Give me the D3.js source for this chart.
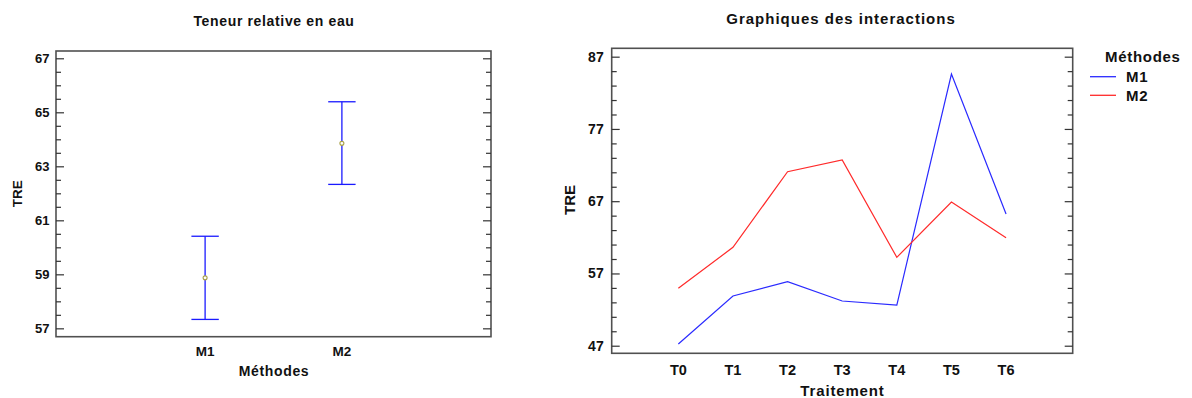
<!DOCTYPE html>
<html><head><meta charset="utf-8">
<script src="https://cdn.jsdelivr.net/npm/d3@7"></script>
<style>
html,body{margin:0;padding:0;background:#fff;}
svg{display:block;}
text{font-family:"Liberation Sans",Arial,sans-serif;font-weight:bold;fill:#111;}
</style></head>
<body>
<svg id="c" width="1192" height="398"></svg>
<script>
// ---- Data: left chart (means with intervals) ----
const methods = ["M1", "M2"];
const methodMeans = [58.87, 63.85];
const methodLower = [57.33, 62.33];
const methodUpper = [60.41, 65.39];
const leftYTicks = [57, 59, 61, 63, 65, 67];

// ---- Data: right chart (interactions) ----
const treatments = ["T0", "T1", "T2", "T3", "T4", "T5", "T6"];
const seriesNames = ["M1", "M2"];
const m1Values = [47.24, 53.88, 55.86, 53.19, 52.63, 84.6, 65.23];
const m2Values = [54.94, 60.62, 71.08, 72.7, 59.23, 66.89, 61.95];
const rightYTicks = [47, 57, 67, 77, 87];
const seriesColors = ["#2a2aff", "#ff2a2a"];

const svg = d3.select("#c");
const frameColor = "#505050";

function frame(g, x0, x1, y0, y1) {
  g.append("rect").attr("x", x0).attr("y", y0).attr("width", x1 - x0).attr("height", y1 - y0)
    .attr("fill", "none").attr("stroke", frameColor).attr("stroke-width", 1.6);
}
function yAxes(g, y, x0, x1, major, minor, fs, pad) {
  const L = g.append("g").attr("transform", `translate(${x0},0)`)
    .call(d3.axisLeft(y).tickValues(major).tickSize(-8).tickPadding(pad).tickFormat(d3.format("d")));
  L.select(".domain").remove();
  L.selectAll("text").style("font-size", fs + "px").style("font-family", '"Liberation Sans",Arial,sans-serif').attr("fill", "#111").attr("font-weight", "bold");
  L.selectAll("line").attr("stroke", "#333").attr("stroke-width", 1.2);
  const Lm = g.append("g").attr("transform", `translate(${x0},0)`)
    .call(d3.axisLeft(y).tickValues(minor).tickSize(-5).tickFormat(""));
  Lm.select(".domain").remove();
  Lm.selectAll("line").attr("stroke", "#333").attr("stroke-width", 1.2);
  const R = g.append("g").attr("transform", `translate(${x1},0)`)
    .call(d3.axisRight(y).tickValues(major).tickSize(-8).tickFormat(""));
  R.select(".domain").remove();
  R.selectAll("line").attr("stroke", "#333").attr("stroke-width", 1.2);
  const Rm = g.append("g").attr("transform", `translate(${x1},0)`)
    .call(d3.axisRight(y).tickValues(minor).tickSize(-5).tickFormat(""));
  Rm.select(".domain").remove();
  Rm.selectAll("line").attr("stroke", "#333").attr("stroke-width", 1.2);
}

// ================= LEFT CHART =================
{
  const x0 = 56, x1 = 491, y0 = 51, y1 = 336.7;
  const g = svg.append("g");
  const x = d3.scalePoint().domain(methods).range([x0, x1]).padding(1.09);
  const y = d3.scaleLinear().domain([56.69, 67.27]).range([y1, y0]);
  frame(g, x0, x1, y0, y1);
  const minor = d3.range(57, 67.01, 0.5).filter(v => !leftYTicks.includes(v));
  yAxes(g, y, x0, x1, leftYTicks, minor, 13, 6.5);

  const cap = 13.7;
  const eb = g.append("g").attr("stroke", "#1a1aff").attr("stroke-width", 1.3).attr("fill", "none");
  methods.forEach((m, i) => {
    const cx = x(m);
    eb.append("line").attr("x1", cx).attr("x2", cx).attr("y1", y(methodLower[i])).attr("y2", y(methodUpper[i]));
    eb.append("line").attr("x1", cx - cap).attr("x2", cx + cap).attr("y1", y(methodLower[i])).attr("y2", y(methodLower[i]));
    eb.append("line").attr("x1", cx - cap).attr("x2", cx + cap).attr("y1", y(methodUpper[i])).attr("y2", y(methodUpper[i]));
  });
  g.selectAll("circle.mean").data(methods).join("circle").attr("class", "mean")
    .attr("cx", d => x(d)).attr("cy", (d, i) => y(methodMeans[i])).attr("r", 2)
    .attr("fill", "#fff").attr("stroke", "#a8a048").attr("stroke-width", 1.1);

  g.selectAll("text.xl").data(methods).join("text").attr("class", "xl")
    .attr("x", d => x(d)).attr("y", 356).attr("text-anchor", "middle").style("font-size", "13.5px").text(d => d);
  g.append("text").attr("x", 274).attr("y", 376).attr("text-anchor", "middle")
    .style("font-size", "14px").style("letter-spacing", "0.65px").text("Méthodes");
  g.append("text").attr("transform", "translate(17.5,193.7) rotate(-90)").attr("text-anchor", "middle")
    .attr("dominant-baseline", "central").style("font-size", "13.5px").text("TRE");
  g.append("text").attr("x", 274).attr("y", 25.5).attr("text-anchor", "middle")
    .style("font-size", "14px").style("letter-spacing", "0.65px").text("Teneur relative en eau");
}

// ================= RIGHT CHART =================
{
  const x0 = 611.7, x1 = 1072.7, y0 = 48.3, y1 = 353.3;
  const g = svg.append("g");
  const x = d3.scalePoint().domain(treatments).range([x0, x1]).padding(1.22);
  const y = d3.scaleLinear().domain([45.95, 88.16]).range([y1, y0]);
  frame(g, x0, x1, y0, y1);
  const minor = d3.range(47, 87.01, 2).filter(v => !rightYTicks.includes(v));
  yAxes(g, y, x0, x1, rightYTicks, minor, 14, 8);

  const line = d3.line().x((d, i) => x(treatments[i])).y(d => y(d));
  [m1Values, m2Values].forEach((vals, k) => {
    g.append("path").datum(vals).attr("d", line).attr("fill", "none")
      .attr("stroke", seriesColors[k]).attr("stroke-width", 1.2);
  });

  g.selectAll("text.xl").data(treatments).join("text").attr("class", "xl")
    .attr("x", d => x(d)).attr("y", 375).attr("text-anchor", "middle").style("font-size", "14.5px").text(d => d);
  g.append("text").attr("x", 842.5).attr("y", 396).attr("text-anchor", "middle")
    .style("font-size", "15px").style("letter-spacing", "0.85px").text("Traitement");
  g.append("text").attr("transform", "translate(569,200) rotate(-90)").attr("text-anchor", "middle")
    .attr("dominant-baseline", "central").style("font-size", "15px").text("TRE");
  g.append("text").attr("x", 841).attr("y", 24).attr("text-anchor", "middle")
    .style("font-size", "15px").style("letter-spacing", "1px").text("Graphiques des interactions");

  // legend
  const lg = g.append("g");
  lg.append("text").attr("x", 1105).attr("y", 61.7).style("font-size", "15px").style("letter-spacing", "0.7px").text("Méthodes");
  seriesNames.forEach((s, i) => {
    const yy = 76.7 + i * 18.6;
    lg.append("line").attr("x1", 1090).attr("x2", 1116).attr("y1", yy).attr("y2", yy)
      .attr("stroke", seriesColors[i]).attr("stroke-width", 1.3);
    lg.append("text").attr("x", 1126).attr("y", yy + 5.2).style("font-size", "15px").style("letter-spacing", "0.7px").text(s);
  });
}
</script>
</body></html>
